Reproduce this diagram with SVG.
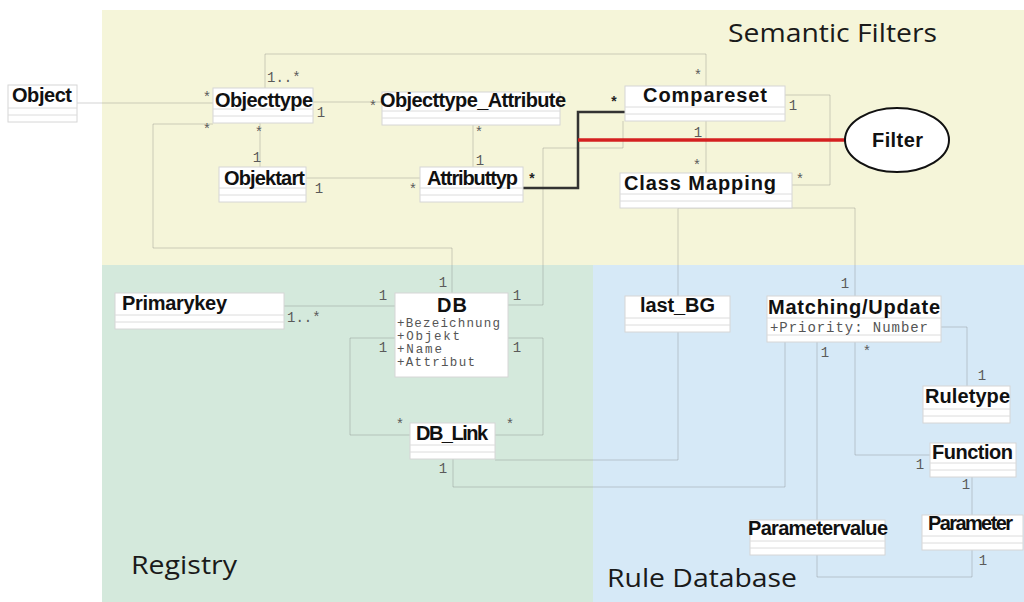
<svg xmlns="http://www.w3.org/2000/svg" width="1024" height="602" viewBox="0 0 1024 602">
  <style>
    .title { font-family: "Liberation Sans", Arial, sans-serif; font-weight: bold; font-size: 20px; fill: #111; }
    .attr { font-family: "Liberation Mono", "Courier New", monospace; font-size: 14px; fill: #555; }
    .attr-small { font-family: "Liberation Mono", "Courier New", monospace; font-size: 12.5px; fill: #555; }
    .mult { font-family: "Liberation Mono", "Courier New", monospace; font-size: 14px; fill: #5a5a5a; }
    .mult-dark { font-family: "Liberation Mono", "Courier New", monospace; font-size: 14px; font-weight: bold; fill: #222; }
    .region { font-family: "Open Sans", "DejaVu Sans", sans-serif; font-size: 26px; fill: #1a1a1a; }
    .box { fill: #ffffff; stroke: #d6d6d6; stroke-width: 1; }
    .sep { stroke: #dcdcdc; stroke-width: 1; }
    .link { fill: none; stroke: #6a6a6a; stroke-opacity: 0.3; stroke-width: 1; }
    .strong { fill: none; stroke: #333; stroke-width: 2.5; }
    .filter-link { fill: none; stroke: #d42020; stroke-width: 3.5; }
  </style>

  <!-- package areas -->
  <g id="areas">
    <rect x="102" y="10" width="922" height="255" fill="#f5f5d9"/>
    <rect x="102" y="265" width="491" height="337" fill="#d4e9dc"/>
    <rect x="593" y="265" width="431" height="337" fill="#d6e9f7"/>
    <text class="region" x="728" y="42" textLength="209" lengthAdjust="spacingAndGlyphs">Semantic Filters</text>
    <text class="region" x="131" y="574" textLength="106" lengthAdjust="spacingAndGlyphs">Registry</text>
    <text class="region" x="607" y="587" textLength="190" lengthAdjust="spacingAndGlyphs">Rule Database</text>
  </g>

  <!-- associations -->
  <g id="connectors">
    <path class="link" d="M77,103 H213"/>
    <path class="link" d="M313,102 H382"/>
    <path class="link" d="M260,123 V167"/>
    <path class="link" d="M213,124 H153 V248 H452 V293"/>
    <path class="link" d="M265,88 V54 H706 V86"/>
    <path class="link" d="M306,178 H420"/>
    <path class="link" d="M473,125 V167"/>
    <path class="link" d="M706,121 V173"/>
    <path class="link" d="M785,95 H830 V185 H792"/>
    <path class="link" d="M508,305 H543 V148 H623 V121"/>
    <path class="link" d="M678,208 V296"/>
    <path class="link" d="M678,208 H855 V296"/>
    <path class="link" d="M678,332 V460 H495"/>
    <path class="link" d="M284,306 H395"/>
    <path class="link" d="M395,338 H350 V435 H410"/>
    <path class="link" d="M508,338 H543 V435 H495"/>
    <path class="link" d="M453,459 V487 H785 V342"/>
    <path class="link" d="M817,342 V577 H972 V550"/>
    <path class="link" d="M855,342 V455 H930"/>
    <path class="link" d="M941,327 H967 V386"/>
    <path class="link" d="M972,477 V515"/>
    <path class="strong" d="M523,188 H578 V112 H625"/>
    <path class="filter-link" d="M578,140 H845"/>

    <!-- multiplicities -->
    <text class="mult" x="267" y="82">1..*</text>
    <text class="mult" x="207" y="102" text-anchor="middle">*</text>
    <text class="mult" x="321" y="117" text-anchor="middle">1</text>
    <text class="mult" x="207" y="134" text-anchor="middle">*</text>
    <text class="mult" x="259" y="137" text-anchor="middle">*</text>
    <text class="mult" x="257" y="162" text-anchor="middle">1</text>
    <text class="mult" x="319" y="193" text-anchor="middle">1</text>
    <text class="mult" x="373" y="111" text-anchor="middle">*</text>
    <text class="mult" x="479" y="137" text-anchor="middle">*</text>
    <text class="mult" x="480" y="165" text-anchor="middle">1</text>
    <text class="mult" x="413" y="194" text-anchor="middle">*</text>
    <text class="mult-dark" x="532" y="184" text-anchor="middle">*</text>
    <text class="mult-dark" x="614" y="107" text-anchor="middle">*</text>
    <text class="mult" x="698" y="80" text-anchor="middle">*</text>
    <text class="mult" x="793" y="110" text-anchor="middle">1</text>
    <text class="mult" x="698" y="137" text-anchor="middle">1</text>
    <text class="mult" x="697" y="170" text-anchor="middle">*</text>
    <text class="mult" x="800" y="184" text-anchor="middle">*</text>
    <text class="mult" x="443" y="287" text-anchor="middle">1</text>
    <text class="mult" x="383" y="300" text-anchor="middle">1</text>
    <text class="mult" x="517" y="300" text-anchor="middle">1</text>
    <text class="mult" x="287" y="322">1..*</text>
    <text class="mult" x="383" y="352" text-anchor="middle">1</text>
    <text class="mult" x="517" y="352" text-anchor="middle">1</text>
    <text class="mult" x="400" y="429" text-anchor="middle">*</text>
    <text class="mult" x="510" y="429" text-anchor="middle">*</text>
    <text class="mult" x="443" y="473" text-anchor="middle">1</text>
    <text class="mult" x="845" y="288" text-anchor="middle">1</text>
    <text class="mult" x="825" y="357" text-anchor="middle">1</text>
    <text class="mult" x="867" y="356" text-anchor="middle">*</text>
    <text class="mult" x="982" y="380" text-anchor="middle">1</text>
    <text class="mult" x="920" y="469" text-anchor="middle">1</text>
    <text class="mult" x="966" y="489" text-anchor="middle">1</text>
    <text class="mult" x="983" y="565" text-anchor="middle">1</text>
  </g>

  <!-- classes -->
  <g id="node-object">
    <rect class="box" x="8" y="85" width="69" height="37"/>
    <path class="sep" d="M8,108 H77 M8,115 H77"/>
    <text class="title" x="12" y="102" textLength="60" lengthAdjust="spacing">Object</text>
  </g>
  <g id="node-objecttype">
    <rect class="box" x="213" y="88" width="100" height="35"/>
    <path class="sep" d="M213,109 H313 M213,116 H313"/>
    <text class="title" x="215" y="107" textLength="98" lengthAdjust="spacing">Objecttype</text>
  </g>
  <g id="node-objektart">
    <rect class="box" x="219" y="167" width="87" height="35"/>
    <path class="sep" d="M219,188 H306 M219,195 H306"/>
    <text class="title" x="224" y="185" textLength="81" lengthAdjust="spacing">Objektart</text>
  </g>
  <g id="node-objecttype-attribute">
    <rect class="box" x="382" y="92" width="178" height="33"/>
    <path class="sep" d="M382,111 H560 M382,118 H560"/>
    <text class="title" x="380" y="107" textLength="186" lengthAdjust="spacing">Objecttype_Attribute</text>
  </g>
  <g id="node-attributtyp">
    <rect class="box" x="420" y="167" width="103" height="35"/>
    <path class="sep" d="M420,188 H523 M420,195 H523"/>
    <text class="title" x="427" y="185" textLength="91" lengthAdjust="spacing">Attributtyp</text>
  </g>
  <g id="node-compareset">
    <rect class="box" x="625" y="86" width="160" height="35"/>
    <path class="sep" d="M625,107 H785 M625,114 H785"/>
    <text class="title" x="643" y="102" textLength="124" lengthAdjust="spacing">Compareset</text>
  </g>
  <g id="node-class-mapping">
    <rect class="box" x="620" y="173" width="172" height="35"/>
    <path class="sep" d="M620,194 H792 M620,201 H792"/>
    <text class="title" x="624" y="190" textLength="152" lengthAdjust="spacing">Class Mapping</text>
  </g>
  <g id="node-filter">
    <ellipse cx="897" cy="140" rx="52" ry="32" fill="#ffffff" stroke="#111" stroke-width="2"/>
    <text class="title" x="872" y="147" textLength="51" lengthAdjust="spacing">Filter</text>
  </g>
  <g id="node-primarykey">
    <rect class="box" x="115" y="293" width="169" height="36"/>
    <path class="sep" d="M115,315 H284 M115,322 H284"/>
    <text class="title" x="122" y="310" textLength="105" lengthAdjust="spacing">Primarykey</text>
  </g>
  <g id="node-db">
    <rect class="box" x="395" y="293" width="113" height="84"/>
    <text class="title" x="437" y="312" textLength="30" lengthAdjust="spacing">DB</text>
    <text class="attr-small" x="397" y="327" textLength="103" lengthAdjust="spacing">+Bezeichnung</text>
    <text class="attr-small" x="397" y="340" textLength="63" lengthAdjust="spacing">+Objekt</text>
    <text class="attr-small" x="397" y="353" textLength="45" lengthAdjust="spacing">+Name</text>
    <text class="attr-small" x="397" y="366" textLength="78" lengthAdjust="spacing">+Attribut</text>
  </g>
  <g id="node-db-link">
    <rect class="box" x="410" y="423" width="85" height="36"/>
    <path class="sep" d="M410,445 H495 M410,452 H495"/>
    <text class="title" x="416" y="440" textLength="72" lengthAdjust="spacing">DB_Link</text>
  </g>
  <g id="node-last-bg">
    <rect class="box" x="625" y="296" width="105" height="36"/>
    <path class="sep" d="M625,318 H730 M625,325 H730"/>
    <text class="title" x="640" y="312" textLength="75" lengthAdjust="spacing">last_BG</text>
  </g>
  <g id="node-matching-update">
    <rect class="box" x="767" y="296" width="174" height="46"/>
    <path class="sep" d="M767,318 H941 M767,335 H941"/>
    <text class="title" x="768" y="314" textLength="172" lengthAdjust="spacing">Matching/Update</text>
    <text class="attr" x="770" y="332" textLength="158" lengthAdjust="spacing">+Priority: Number</text>
  </g>
  <g id="node-ruletype">
    <rect class="box" x="923" y="386" width="87" height="37"/>
    <path class="sep" d="M923,409 H1010 M923,416 H1010"/>
    <text class="title" x="925" y="403" textLength="85" lengthAdjust="spacing">Ruletype</text>
  </g>
  <g id="node-function">
    <rect class="box" x="930" y="443" width="86" height="34"/>
    <path class="sep" d="M930,463 H1016 M930,470 H1016"/>
    <text class="title" x="932" y="459" textLength="81" lengthAdjust="spacing">Function</text>
  </g>
  <g id="node-parameter">
    <rect class="box" x="922" y="515" width="101" height="35"/>
    <path class="sep" d="M922,536 H1023 M922,543 H1023"/>
    <text class="title" x="928" y="530" textLength="85" lengthAdjust="spacing">Parameter</text>
  </g>
  <g id="node-parametervalue">
    <rect class="box" x="750" y="520" width="135" height="35"/>
    <path class="sep" d="M750,541 H885 M750,548 H885"/>
    <text class="title" x="748" y="535" textLength="140" lengthAdjust="spacing">Parametervalue</text>
  </g>
</svg>
